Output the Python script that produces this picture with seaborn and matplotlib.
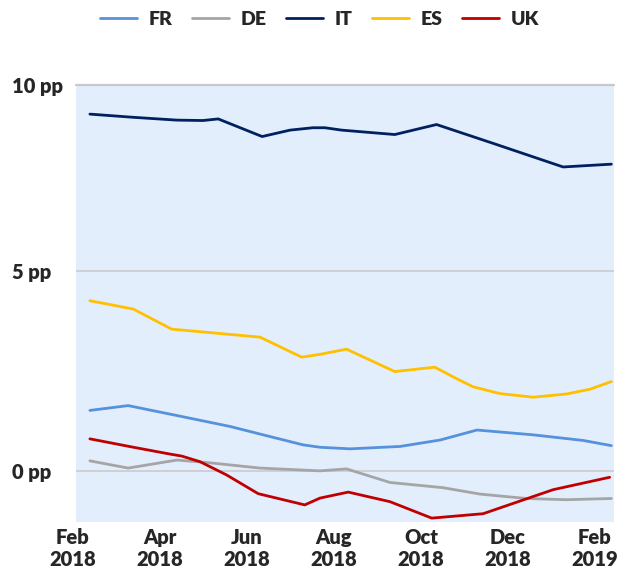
import matplotlib
matplotlib.use("Agg")
import pandas as pd
import matplotlib.pyplot as plt
import seaborn as sns

# Series: x = months since Feb 2018, y = percentage points
countries = ['FR', 'DE', 'IT', 'ES', 'UK']
colors = ['#5592DB', '#A5A5A5', '#002060', '#FFC000', '#C00000']

fr_x = [0, 0.88, 1.92, 3.22, 3.91, 4.9, 5.29, 5.98, 7.13, 8.05, 8.9, 10.19, 11.34, 11.99]
fr_y = [1.51, 1.63, 1.40, 1.11, 0.92, 0.65, 0.59, 0.55, 0.61, 0.77, 1.02, 0.90, 0.76, 0.63]

de_x = [0, 0.88, 2.0, 2.68, 3.91, 5.29, 5.9, 6.9, 8.12, 8.97, 10.04, 10.96, 11.99]
de_y = [0.25, 0.07, 0.27, 0.21, 0.07, 0.0, 0.05, -0.29, -0.42, -0.58, -0.69, -0.72, -0.69]

it_x = [0, 1.0, 2.0, 2.6, 2.95, 3.96, 4.6, 5.13, 5.4, 5.79, 7.01, 7.97, 9.27, 10.88, 11.99]
it_y = [8.91, 8.83, 8.76, 8.75, 8.79, 8.35, 8.51, 8.57, 8.57, 8.51, 8.40, 8.65, 8.18, 7.59, 7.66]

es_x = [0, 1.0, 1.88, 3.91, 4.87, 5.29, 5.9, 7.01, 7.93, 8.4, 8.81, 9.43, 10.19, 10.96, 11.5, 11.99]
es_y = [4.25, 4.04, 3.54, 3.34, 2.84, 2.91, 3.04, 2.48, 2.59, 2.32, 2.10, 1.93, 1.84, 1.92, 2.04, 2.23]

uk_x = [0, 1.0, 1.84, 2.11, 2.53, 3.14, 3.87, 4.94, 5.29, 5.94, 6.9, 7.86, 9.04, 10.65, 11.95]
uk_y = [0.80, 0.59, 0.42, 0.37, 0.23, -0.10, -0.57, -0.85, -0.68, -0.53, -0.77, -1.18, -1.07, -0.47, -0.16]

tick_labels = ['Feb\n2018', 'Apr\n2018', 'Jun\n2018', 'Aug\n2018', 'Oct\n2018', 'Dec\n2018', 'Feb\n2019']
tick_months = [0, 2, 4, 6, 8, 10, 12]
y_ticks = [0, 5, 9.63]
y_labels = ['0 pp', '5 pp', '10 pp']

# Build a long table for seaborn
frames = []
for name, xs, ys in zip(countries, [fr_x, de_x, it_x, es_x, uk_x], [fr_y, de_y, it_y, es_y, uk_y]):
    frames.append(pd.DataFrame({'month': xs, 'value': ys, 'country': name}))
data = pd.concat(frames, ignore_index=True)

sns.set_style('white')
plt.rcParams['font.family'] = ['Lato', 'DejaVu Sans']
text_color = '#262626'
weight = 'heavy'

fig = plt.figure(figsize=(6.3, 5.72), dpi=100)
ax = fig.add_axes([0.1206, 0.0879, 0.8540, 0.7630])
ax.set_facecolor('#E3EEFC')

sns.lineplot(data=data, x='month', y='value', hue='country', hue_order=countries,
             palette=colors, sort=False, estimator=None, linewidth=2.0, ax=ax, zorder=3)

ax.set_xlim(-0.32, 12.05)
ax.set_ylim(-1.27, 9.63)

# y axis: gridlines and left aligned labels
ax.set_yticks(y_ticks)
ax.set_yticklabels(y_labels)
ax.tick_params(axis='y', length=0, pad=46, labelsize=14.5, labelcolor=text_color)
for lab in ax.get_yticklabels():
    lab.set_horizontalalignment('left')
    lab.set_fontweight(weight)
ax.grid(axis='y', color='#C8C8C8', linewidth=1.1, zorder=1)
ax.axhline(y_ticks[-1], color='#C8C8C8', linewidth=1.6, clip_on=False, zorder=1)
ax.set_axisbelow(True)

# x axis labels sit a bit left of the month points
ax.set_xticks([])
for m, lab in zip(tick_months, tick_labels):
    ax.text(m - 0.39, -0.015, lab, transform=ax.get_xaxis_transform(), ha='center', va='top',
            fontsize=14.5, fontweight=weight, color=text_color, linespacing=1.15, clip_on=False)

ax.set_xlabel('')
ax.set_ylabel('')
for s in ax.spines.values():
    s.set_visible(False)

sns.move_legend(ax, 'center', bbox_to_anchor=(0.4526, 1.1508), ncol=5, title=None, frameon=False,
                handlelength=1.9, handletextpad=0.6, columnspacing=1.0, fontsize=14)
for t in ax.get_legend().get_texts():
    t.set_color(text_color)
    t.set_fontweight(weight)

fig.savefig('out.png', dpi=100)
